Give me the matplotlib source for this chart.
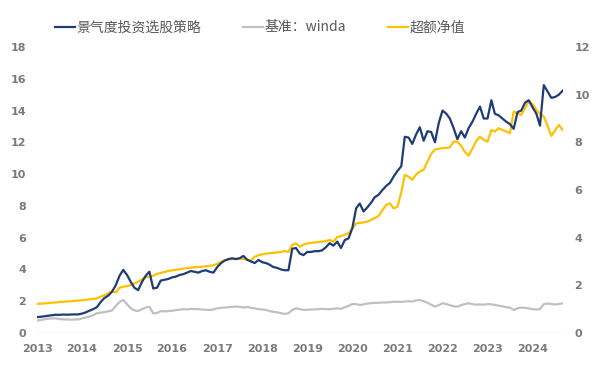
import numpy as np
import pandas as pd
import matplotlib
matplotlib.use('Agg')
import matplotlib.pyplot as plt
import matplotlib.dates as mdates

plt.rcParams['font.family'] = ['Noto Sans CJK SC', 'DejaVu Sans']

# monthly, Jan 2013 .. Sep 2024
dates = pd.date_range('2013-01-01', periods=141, freq='MS')

strategy = [
    1.00, 1.02, 1.05, 1.08, 1.12, 1.15, 1.14, 1.16, 1.15, 1.16, 1.17, 1.17,
    1.22, 1.30, 1.40, 1.50, 1.62, 1.95, 2.20, 2.35, 2.60, 3.00, 3.60, 3.97,
    3.65, 3.20, 2.85, 2.70, 3.20, 3.60, 3.86, 2.80, 2.85, 3.30, 3.35, 3.40,
    3.50, 3.55, 3.65, 3.70, 3.80, 3.90, 3.85, 3.80, 3.90, 3.95, 3.85, 3.80,
    4.15, 4.40, 4.55, 4.65, 4.70, 4.65, 4.70, 4.85, 4.60, 4.50, 4.40, 4.60,
    4.45, 4.40, 4.30, 4.15, 4.10, 4.00, 3.95, 3.95, 5.30, 5.35, 5.00, 4.90,
    5.10, 5.10, 5.15, 5.15, 5.20, 5.40, 5.65, 5.50, 5.75, 5.35, 5.85, 5.95,
    6.60, 7.85, 8.15, 7.65, 7.90, 8.20, 8.55, 8.70, 9.00, 9.25, 9.45, 9.85,
    10.20, 10.50, 12.35, 12.30, 11.90, 12.50, 12.95, 12.10, 12.70, 12.65, 12.00, 13.20,
    14.00, 13.80, 13.50, 12.90, 12.20, 12.70, 12.30, 12.90, 13.30, 13.80, 14.25, 13.50,
    13.50, 14.65, 13.80, 13.70, 13.50, 13.30, 13.15, 12.85, 13.90, 14.00, 14.50, 14.65,
    14.20, 13.80, 13.05, 15.60, 15.20, 14.80, 14.85, 15.00, 15.25,
]

benchmark = [
    0.78, 0.82, 0.86, 0.90, 0.92, 0.92, 0.88, 0.86, 0.85, 0.84, 0.85, 0.86,
    0.92, 0.98, 1.03, 1.12, 1.24, 1.28, 1.31, 1.36, 1.42, 1.70, 1.95, 2.08,
    1.80, 1.55, 1.42, 1.38, 1.50, 1.60, 1.65, 1.24, 1.26, 1.38, 1.36, 1.38,
    1.40, 1.44, 1.46, 1.50, 1.48, 1.52, 1.50, 1.50, 1.48, 1.46, 1.45, 1.48,
    1.55, 1.58, 1.60, 1.62, 1.64, 1.66, 1.65, 1.60, 1.64, 1.58, 1.55, 1.50,
    1.48, 1.45, 1.38, 1.34, 1.30, 1.25, 1.20, 1.24, 1.45, 1.55, 1.50, 1.45,
    1.46, 1.48, 1.48, 1.50, 1.52, 1.50, 1.50, 1.52, 1.55, 1.52, 1.62, 1.70,
    1.82, 1.82, 1.76, 1.80, 1.85, 1.88, 1.90, 1.90, 1.92, 1.92, 1.94, 1.96,
    1.97, 1.95, 1.98, 2.00, 1.98, 2.05, 2.08, 2.00, 1.90, 1.78, 1.66, 1.75,
    1.87, 1.82, 1.75, 1.68, 1.66, 1.75, 1.82, 1.87, 1.82, 1.78, 1.80, 1.78,
    1.82, 1.80, 1.76, 1.72, 1.68, 1.62, 1.60, 1.45, 1.55, 1.60, 1.58, 1.55,
    1.50, 1.48, 1.50, 1.82, 1.85, 1.82, 1.80, 1.82, 1.87,
]

excess = [
    1.22, 1.23, 1.24, 1.25, 1.27, 1.28, 1.30, 1.31, 1.32, 1.33, 1.35, 1.36,
    1.37, 1.39, 1.41, 1.43, 1.45, 1.52, 1.59, 1.66, 1.76, 1.70, 1.90, 1.94,
    1.97, 2.01, 2.08, 2.15, 2.25, 2.35, 2.36, 2.40, 2.48, 2.52, 2.56, 2.60,
    2.63, 2.65, 2.67, 2.70, 2.72, 2.74, 2.76, 2.77, 2.78, 2.80, 2.82, 2.84,
    2.90, 2.98, 3.05, 3.08, 3.10, 3.12, 3.12, 3.10, 3.08, 3.05, 3.20, 3.26,
    3.30, 3.33, 3.35, 3.36, 3.38, 3.40, 3.44, 3.40, 3.70, 3.76, 3.62, 3.70,
    3.76, 3.78, 3.80, 3.82, 3.83, 3.86, 3.90, 3.83, 4.03, 4.06, 4.12, 4.18,
    4.39, 4.60, 4.62, 4.64, 4.67, 4.75, 4.82, 4.91, 5.15, 5.37, 5.44, 5.23,
    5.30, 5.90, 6.63, 6.56, 6.43, 6.65, 6.78, 6.85, 7.19, 7.52, 7.70, 7.73,
    7.76, 7.76, 7.79, 8.03, 8.03, 7.85, 7.60, 7.44, 7.75, 8.05, 8.24, 8.10,
    8.03, 8.52, 8.45, 8.59, 8.52, 8.45, 8.38, 9.29, 9.20, 9.15, 9.43, 9.72,
    9.60, 9.36, 9.20, 9.08, 8.70, 8.27, 8.50, 8.73, 8.52,
]

labels = ['景气度投资选股策略', '基准：winda', '超额净值']
colors = ['#1f3b78', '#c0c0c0', '#ffc000']
tick_grey = '#7a7a7a'

fig = plt.figure(figsize=(5.94, 3.66), dpi=100)
ax = fig.add_axes([0.0623, 0.0902, 0.886, 0.7814])
ax2 = ax.twinx()

l1, = ax.plot(dates, strategy, color=colors[0], lw=1.6, zorder=3)
l2, = ax.plot(dates, benchmark, color=colors[1], lw=1.6, zorder=2)
l3, = ax2.plot(dates, excess, color=colors[2], lw=1.6, zorder=2)
ax.set_zorder(ax2.get_zorder() + 1)
ax.patch.set_visible(False)

ax.set_ylim(0, 18)
ax.set_yticks(range(0, 19, 2))
ax2.set_ylim(0, 12)
ax2.set_yticks(range(0, 13, 2))
ax.set_xlim(dates[0], dates[-1] + pd.Timedelta(days=5))
ax.xaxis.set_major_locator(mdates.YearLocator())
ax.xaxis.set_major_formatter(mdates.DateFormatter('%Y'))

for a in (ax, ax2):
    for s in a.spines.values():
        s.set_visible(False)
    a.tick_params(length=0, colors=tick_grey, labelsize=8, pad=8)
    for t in a.get_xticklabels() + a.get_yticklabels():
        t.set_fontweight('bold')
        t.set_family('DejaVu Sans')
ax.axhline(0, color='#d9d9d9', lw=1.0, zorder=1)

leg = fig.legend([l1, l2, l3], labels, loc='center left',
                 bbox_to_anchor=(0.072, 0.925), ncol=3, frameon=False,
                 fontsize=10, handlelength=1.45, handletextpad=0.1,
                 columnspacing=3.0, labelcolor='#595959')

fig.savefig('out.png', dpi=100)
